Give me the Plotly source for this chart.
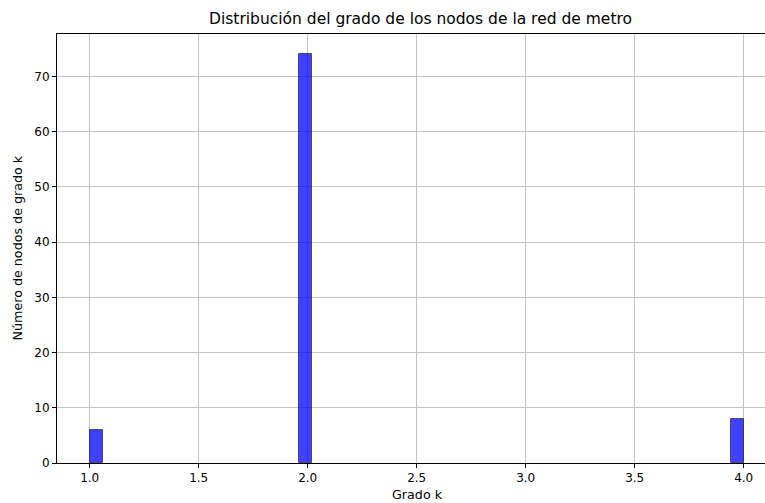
import numpy as np
import plotly.graph_objects as go

# Degree of each metro-network node and how many nodes have it
grados = [1, 2, 4]
num_nodos = [6, 74, 8]
n_bins = 50

# Rebuild the per-node degree list and bin it into 50 equal bins
muestras = np.repeat(grados, num_nodos)
conteos, bordes = np.histogram(muestras, bins=n_bins)
ancho = bordes[1] - bordes[0]
mask = conteos > 0

W, H = 765, 503
left, right, top, bottom = 57, 0, 34, 40
x_lo = 0.85
px_per_unit = 218.0
x_hi = x_lo + (W - left - right) / px_per_unit

fig = go.Figure()
fig.add_trace(go.Bar(
    x=bordes[:-1][mask],
    y=conteos[mask],
    width=ancho,
    offset=0,
    marker=dict(color="rgba(0,0,255,0.75)",
                line=dict(color="rgba(0,0,0,0.55)", width=1)),
    hoverinfo="x+y",
))

font = "DejaVu Sans, sans-serif"
fig.update_layout(
    width=W, height=H,
    margin=dict(l=left, r=right, t=top, b=bottom),
    paper_bgcolor="white", plot_bgcolor="white",
    showlegend=False,
    font=dict(family=font, size=12, color="black"),
    bargap=0,
    annotations=[
        dict(text="Distribución del grado de los nodos de la red de metro",
             xref="paper", yref="paper",
             x=(420 - left) / (W - left - right), y=1, yshift=4,
             xanchor="center", yanchor="bottom", showarrow=False,
             font=dict(size=15.5, family=font)),
        dict(text="Grado k", xref="paper", yref="paper",
             x=(417 - left) / (W - left - right), y=0, yshift=-22,
             xanchor="center", yanchor="top", showarrow=False,
             font=dict(size=12.7, family=font)),
        dict(text="Número de nodos de grado k", xref="paper", yref="paper",
             x=0, xshift=-40, y=0.5, textangle=-90,
             xanchor="center", yanchor="middle", showarrow=False,
             font=dict(size=12.7, family=font)),
    ],
)
fig.update_xaxes(
    range=[x_lo, x_hi],
    tickvals=[1.0, 1.5, 2.0, 2.5, 3.0, 3.5, 4.0],
    ticktext=["1.0", "1.5", "2.0", "2.5", "3.0", "3.5", "4.0"],
    showgrid=True, gridcolor="#c4c4c4", gridwidth=1,
    showline=True, linecolor="black", linewidth=1, mirror=True,
    ticks="outside", ticklen=4, tickcolor="black",
    zeroline=False, layer="above traces",
)
fig.update_yaxes(
    range=[0, max(num_nodos) * 1.05],
    tickvals=[0, 10, 20, 30, 40, 50, 60, 70],
    showgrid=True, gridcolor="#c4c4c4", gridwidth=1,
    showline=True, linecolor="black", linewidth=1,
    ticks="outside", ticklen=4, tickcolor="black",
    zeroline=False, layer="above traces",
)

fig.write_html("out.html")
